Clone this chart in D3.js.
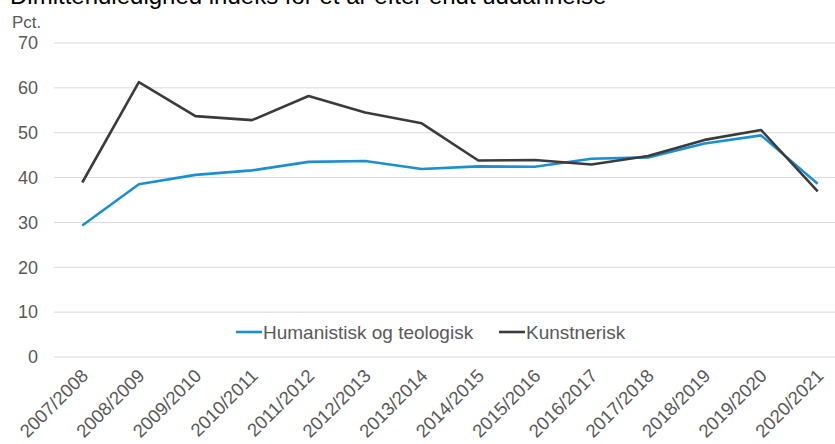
<!DOCTYPE html>
<meta charset="utf-8" />
<script src="https://d3js.org/d3.v7.min.js"></script>
<style>
  body { margin: 0; background: #fff; }
  text { font-family: "Liberation Sans", Arial, sans-serif; }
</style>
<body>
<div id="chart"></div>
<script>
  // data
  var years = ["2007/2008", "2008/2009", "2009/2010", "2010/2011", "2011/2012", "2012/2013",
    "2013/2014", "2014/2015", "2015/2016", "2016/2017", "2017/2018", "2018/2019",
    "2019/2020", "2020/2021"];
  var humanistisk = [29.3, 38.5, 40.6, 41.6, 43.5, 43.7, 41.9, 42.5, 42.4, 44.2, 44.5, 47.6, 49.4, 38.6];
  var kunstnerisk = [38.9, 61.3, 53.7, 52.8, 58.2, 54.5, 52.1, 43.8, 43.9, 42.9, 44.8, 48.4, 50.6, 36.9];
  var yTicks = [0, 10, 20, 30, 40, 50, 60, 70];
  var seriesNames = ["Humanistisk og teologisk", "Kunstnerisk"];
  var colors = ["#1a8fd6", "#3b3b3b"];

  var width = 835, height = 444;
  var svg = d3.select("#chart").append("svg")
    .attr("width", width)
    .attr("height", height);

  var x = d3.scaleBand().domain(years).range([54, 846]);
  var y = d3.scaleLinear().domain([0, 70]).range([357, 43]);

  // title (cut off at the top, as in the source)
  svg.append("text")
    .attr("x", 10).attr("y", 4)
    .attr("font-size", 24)
    .attr("fill", "#000")
    .text("Dimittendledighed indeks for et år efter endt uddannelse");

  svg.append("text")
    .attr("x", 12).attr("y", 28)
    .attr("font-size", 17)
    .attr("fill", "#595959")
    .text("Pct.");

  // gridlines
  svg.append("g").selectAll("line")
    .data(yTicks).enter().append("line")
    .attr("x1", 54).attr("x2", 846)
    .attr("y1", function (d) { return y(d); })
    .attr("y2", function (d) { return y(d); })
    .attr("stroke", "#d9d9d9")
    .attr("stroke-width", 1);

  // y labels
  svg.append("g").selectAll("text")
    .data(yTicks).enter().append("text")
    .attr("x", 38)
    .attr("y", function (d) { return y(d); })
    .attr("dy", "0.35em")
    .attr("text-anchor", "end")
    .attr("font-size", 18)
    .attr("fill", "#595959")
    .text(function (d) { return d; });

  // x labels, rotated
  svg.append("g").selectAll("text")
    .data(years).enter().append("text")
    .attr("text-anchor", "end")
    .attr("font-size", 18.5)
    .attr("fill", "#595959")
    .attr("transform", function (d) {
      return "translate(" + (x(d) + x.bandwidth() / 2 + 7) + ",377) rotate(-45)";
    })
    .text(function (d) { return d; });

  var line = d3.line()
    .x(function (d, i) { return x(years[i]) + x.bandwidth() / 2; })
    .y(function (d) { return y(d); });

  [humanistisk, kunstnerisk].forEach(function (s, i) {
    svg.append("path")
      .datum(s)
      .attr("d", line)
      .attr("fill", "none")
      .attr("stroke", colors[i])
      .attr("stroke-width", 2.6)
      .attr("stroke-linejoin", "round");
  });

  // legend
  var legendX = [236, 499];
  seriesNames.forEach(function (n, i) {
    var g = svg.append("g").attr("transform", "translate(" + legendX[i] + ",332)");
    g.append("line").attr("x1", 0).attr("x2", 26)
      .attr("stroke", colors[i]).attr("stroke-width", 2.6);
    g.append("text").attr("x", 27).attr("dy", "0.35em")
      .attr("font-size", 19).attr("fill", "#595959")
      .text(n);
  });
</script>
</body>
